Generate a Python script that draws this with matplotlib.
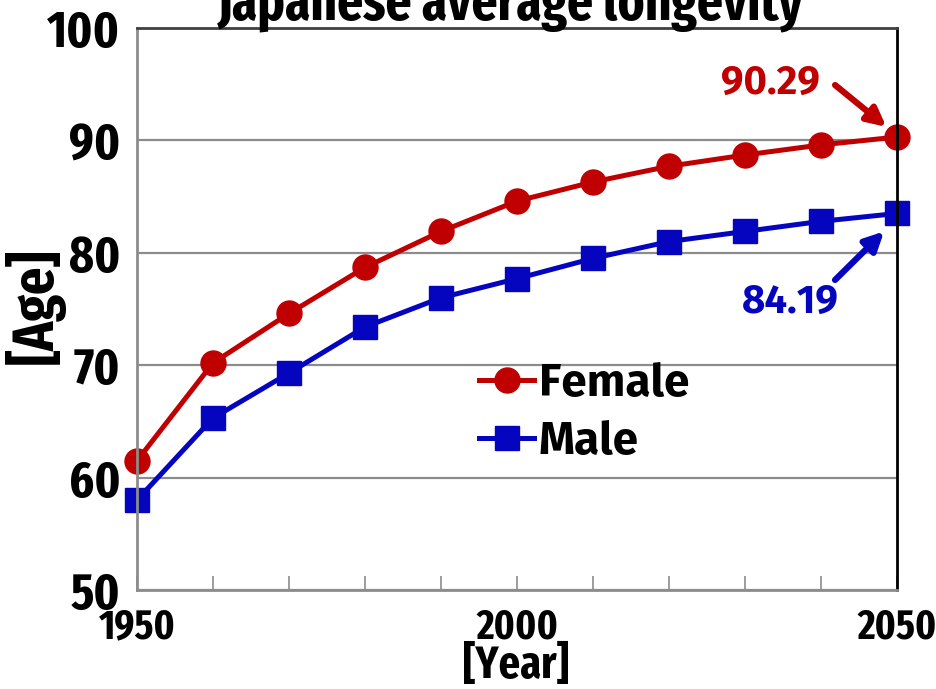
import matplotlib
matplotlib.use("Agg")
import matplotlib.pyplot as plt
from matplotlib.ticker import MultipleLocator

# data
years = [1950, 1960, 1970, 1980, 1990, 2000, 2010, 2020, 2030, 2040, 2050]
female = [61.5, 70.2, 74.6, 78.7, 81.9, 84.6, 86.3, 87.7, 88.7, 89.6, 90.3]
male = [58.0, 65.3, 69.3, 73.4, 76.0, 77.7, 79.5, 81.0, 81.9, 82.8, 83.5]
female_label = "90.29"
male_label = "84.19"

RED = "#C00000"
BLUE = "#0505BF"
NARROW = ["Fira Sans Extra Condensed", "DejaVu Sans"]
WIDE = ["Fira Sans", "DejaVu Sans"]

fig = plt.figure(figsize=(9.37, 6.89), dpi=100)
ax = fig.add_axes([137/937, 1 - 590/689, (897-137)/937, (590-28)/689])

ax.plot(years, female, color=RED, lw=3.6, marker="o", ms=18, label="Female")
ax.plot(years, male, color=BLUE, lw=3.6, marker="s", ms=17, label="Male")

ax.set_xlim(1950, 2050); ax.set_ylim(50, 100)
ax.yaxis.set_major_locator(MultipleLocator(10))
ax.xaxis.set_major_locator(MultipleLocator(50))
ax.xaxis.set_minor_locator(MultipleLocator(10))
ax.grid(axis="y", color="#8c8c8c", lw=1.6)
ax.set_axisbelow(True)
ax.tick_params(axis="x", which="both", direction="in", length=10, width=1.2, color="#8c8c8c", pad=12)
ax.tick_params(axis="y", length=0, pad=12)
for lab in ax.get_xticklabels():
    lab.set_family(NARROW); lab.set_fontweight("bold"); lab.set_fontsize(30)
for lab in ax.get_yticklabels():
    lab.set_family(NARROW); lab.set_fontweight("bold"); lab.set_fontsize(37)
for s in ["left", "bottom"]:
    ax.spines[s].set_color("#8c8c8c"); ax.spines[s].set_linewidth(2)
ax.spines["top"].set_color("#404040"); ax.spines["top"].set_linewidth(2)
ax.spines["right"].set_color("black"); ax.spines["right"].set_linewidth(2)
for l in ax.get_lines():
    l.set_clip_on(False)

fig.text(511/937, 1 - 19/689, "Japanese average longevity", family=NARROW, fontweight="bold",
         fontsize=40, ha="center", va="baseline")
fig.text(35/937, 1 - 306/689, "[Age]", family=NARROW, fontweight="bold", fontsize=42,
         rotation=90, ha="center", va="center")
fig.text(516/937, 1 - 666/689, "[Year]", family=NARROW, fontweight="bold", fontsize=33,
         ha="center", va="center")

leg = ax.legend(loc="center left", bbox_to_anchor=(0.42, 0.315), frameon=False, handlelength=1.2,
                handletextpad=0.1, labelspacing=0.3, borderpad=0,
                prop={"family": WIDE, "weight": "bold", "size": 33})

ax.annotate(female_label, xy=(2048.6, female[-1] + 0.9), xytext=(2039.9, 95.1), color=RED,
            family=WIDE, fontweight="bold", fontsize=29, ha="right", va="center",
            arrowprops=dict(arrowstyle="-|>", color=RED, lw=4.5, mutation_scale=28,
                            shrinkA=0, shrinkB=0, relpos=(1.15, 0.45)))
ax.annotate(male_label, xy=(2048.3, male[-1] - 1.6), xytext=(2036, 75.6), color=BLUE,
            family=WIDE, fontweight="bold", fontsize=29, ha="center", va="center",
            arrowprops=dict(arrowstyle="-|>", color=BLUE, lw=4.5, mutation_scale=28,
                            shrinkA=0, shrinkB=0, relpos=(0.95, 1.05)))

fig.savefig("out.png", dpi=100)
